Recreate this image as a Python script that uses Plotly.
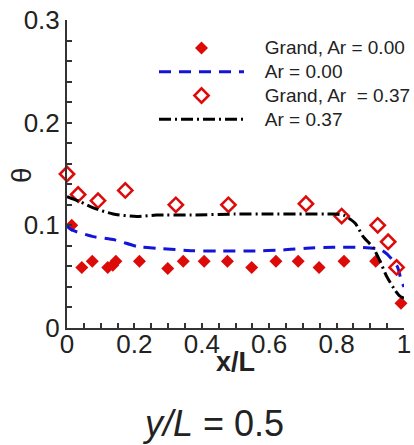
import plotly.graph_objects as go

# ---- data ----
g0_x = [0.014, 0.044, 0.075, 0.121, 0.136, 0.145, 0.215, 0.299, 0.345, 0.407,
        0.476, 0.548, 0.620, 0.686, 0.748, 0.822, 0.916, 0.991]
g0_y = [0.100, 0.059, 0.065, 0.059, 0.061, 0.065, 0.065, 0.058, 0.065, 0.065,
        0.065, 0.059, 0.065, 0.065, 0.059, 0.065, 0.065, 0.024]

g37_x = [0.0, 0.033, 0.092, 0.173, 0.323, 0.479, 0.709, 0.815, 0.922, 0.953, 0.978]
g37_y = [0.150, 0.130, 0.124, 0.134, 0.120, 0.120, 0.121, 0.109, 0.100, 0.084, 0.059]

a0_x = [0.0, 0.014, 0.078, 0.142, 0.21, 0.266, 0.374, 0.45, 0.55, 0.642, 0.711,
        0.79, 0.869, 0.929, 0.95, 0.98, 0.993, 1.0]
a0_y = [0.099, 0.0955, 0.089, 0.0858, 0.0793, 0.0777, 0.0753, 0.075, 0.075, 0.076,
        0.0777, 0.0786, 0.0786, 0.0767, 0.072, 0.060, 0.045, 0.040]

a37_x = [0.0, 0.039, 0.078, 0.137, 0.207, 0.266, 0.37, 0.5, 0.6, 0.7, 0.79, 0.82,
         0.855, 0.879, 0.909, 0.929, 0.949, 0.973, 0.988, 1.0]
a37_y = [0.128, 0.123, 0.117, 0.111, 0.1086, 0.110, 0.110, 0.111, 0.111, 0.111,
         0.111, 0.110, 0.102, 0.089, 0.078, 0.065, 0.050, 0.037, 0.031, 0.029]

series_names = ["Grand, Ar = 0.00", "Ar = 0.00", "Grand, Ar  = 0.37", "Ar = 0.37"]

x_ticks = [0, 0.2, 0.4, 0.6, 0.8, 1]
x_tick_text = ["0", "0.2", "0.4", "0.6", "0.8", "1"]
y_ticks = [0, 0.1, 0.2, 0.3]
y_tick_text = ["0", "0.1", "0.2", "0.3"]

RED = "#dd0a0a"
BLUE = "#1414d8"
FONT = "Liberation Sans, Arial, sans-serif"


def legend_label(s):
    s = s.replace("  ", "\u00a0\u00a0")
    return '<span style="font-size:19px">\u00a0\u00a0\u00a0' + s + "</span>"


fig = go.Figure()
fig.add_trace(go.Scatter(
    x=g0_x, y=g0_y, mode="markers", name=legend_label(series_names[0]),
    marker=dict(symbol="diamond", size=10, color=RED, line=dict(width=0)),
    cliponaxis=False))
fig.add_trace(go.Scatter(
    x=a0_x, y=a0_y, mode="lines", name=legend_label(series_names[1]),
    line=dict(color=BLUE, width=3, dash="12px,8px", shape="spline", smoothing=0.6)))
fig.add_trace(go.Scatter(
    x=g37_x, y=g37_y, mode="markers", name=legend_label(series_names[2]),
    marker=dict(symbol="diamond-open", size=11, color=RED, line=dict(width=2.5, color=RED)),
    cliponaxis=False))
fig.add_trace(go.Scatter(
    x=a37_x, y=a37_y, mode="lines", name=legend_label(series_names[3]),
    line=dict(color="black", width=3, dash="12px,4px,2px,4px", shape="spline", smoothing=0.6)))

fig.update_layout(
    width=414, height=445,
    margin=dict(l=67, r=10, t=20, b=117, autoexpand=False),
    paper_bgcolor="white", plot_bgcolor="white",
    font=dict(family=FONT, color="#222"),
    showlegend=True,
    legend=dict(
        x=(154 - 67) / 337, y=(328 - 31) / 308, xanchor="left", yanchor="top",
        font=dict(size=16, family=FONT, color="#222"),
        bgcolor="rgba(0,0,0,0)", itemwidth=85, tracegroupgap=0,
    ),
    xaxis=dict(
        range=[0, 1], showline=True, linecolor="#333", linewidth=2,
        showgrid=False, zeroline=False, mirror=False, automargin=False,
        tickmode="array", tickvals=x_ticks, ticktext=x_tick_text,
        ticks="inside", ticklen=5, tickwidth=1.5, tickcolor="#333",
        ticklabelstandoff=-8,
        tickfont=dict(size=26, family=FONT, color="#222"),
        minor=dict(dtick=0.05, tick0=0, ticks="inside", ticklen=5, tickwidth=1.5, tickcolor="#333"),
    ),
    yaxis=dict(
        range=[0, 0.3], showline=True, linecolor="#333", linewidth=2,
        showgrid=False, zeroline=False, mirror=False, automargin=False,
        tickmode="array", tickvals=y_ticks, ticktext=y_tick_text,
        ticks="inside", ticklen=5, tickwidth=1.5, tickcolor="#333",
        tickfont=dict(size=26, family=FONT, color="#222"),
        minor=dict(dtick=0.02, tick0=0, ticks="inside", ticklen=5, tickwidth=1.5, tickcolor="#333"),
    ),
    annotations=[
        dict(text="θ", x=(21 - 67) / 337, y=(328 - 175) / 308, xref="paper", yref="paper",
             showarrow=False, textangle=-90, xanchor="center", yanchor="middle",
             font=dict(size=28, family=FONT, color="#222")),
        dict(text="<b>x/L</b>", x=0.5, y=(328 - 362) / 308, xref="paper", yref="paper",
             showarrow=False, xanchor="center", yanchor="middle",
             font=dict(size=27, family=FONT, color="#222")),
        dict(text="<i>y/L</i> = 0.5", x=(213 - 67) / 337, y=(328 - 423) / 308,
             xref="paper", yref="paper", showarrow=False, xanchor="center", yanchor="middle",
             font=dict(size=36, family=FONT, color="#222")),
    ],
)

fig.write_html("out.html")
